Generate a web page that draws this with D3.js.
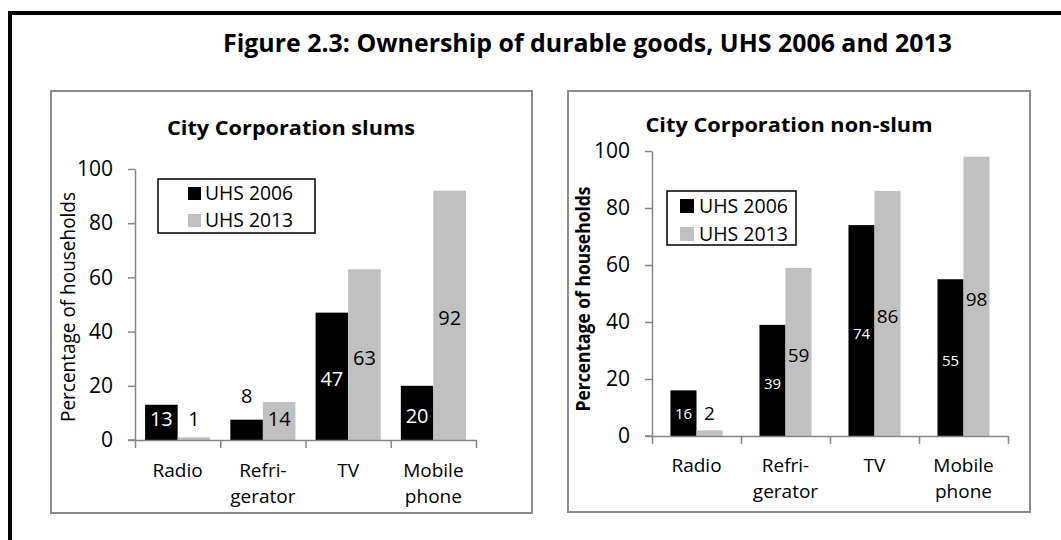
<!DOCTYPE html>
<html>
<head>
<meta charset="utf-8">
<script src="https://cdn.jsdelivr.net/npm/d3@7"></script>
<style>
  body { margin: 0; background: #fff; }
  svg { display: block; font-family: "Open Sans", "Noto Sans", sans-serif; }
</style>
</head>
<body>
<script>
// data
const categories = [["Radio"], ["Refri-", "gerator"], ["TV"], ["Mobile", "phone"]];
const seriesNames = ["UHS 2006", "UHS 2013"];
const slums2006 = [13, 7.5, 47, 20];
const slums2013 = [1, 14, 63, 92];
const nonSlum2006 = [16, 39, 74, 55];
const nonSlum2013 = [2, 59, 86, 98];
const yTicks = [0, 20, 40, 60, 80, 100];

const colors = ["#000000", "#c0c0c0"];
const axisGrey = "#868686";
const fmt = d3.format(".0f");

const svg = d3.select("body").append("svg")
    .attr("width", 1061)
    .attr("height", 540);

svg.append("rect").attr("width", 1061).attr("height", 540).attr("fill", "#fff");

// outer frame (cut off at the right and bottom)
svg.append("rect")
    .attr("x", 10).attr("y", 13)
    .attr("width", 1200).attr("height", 700)
    .attr("fill", "none")
    .attr("stroke", "#000")
    .attr("stroke-width", 4);

svg.append("text")
    .attr("x", 223).attr("y", 52)
    .attr("font-size", 25)
    .attr("font-weight", "bold")
    .attr("textLength", 729)
    .attr("lengthAdjust", "spacingAndGlyphs")
    .text("Figure 2.3: Ownership of durable goods, UHS 2006 and 2013");

function drawPanel(cfg) {
    const rows = categories.map((c, i) => ({ cat: i, values: [cfg.s0[i], cfg.s1[i]] }));

    // panel box
    svg.append("rect")
        .attr("x", cfg.box[0]).attr("y", cfg.box[1])
        .attr("width", cfg.box[2]).attr("height", cfg.box[3])
        .attr("fill", "#fff")
        .attr("stroke", "#8c8c8c")
        .attr("stroke-width", 2);

    // panel title
    svg.append("text")
        .attr("x", cfg.title.x).attr("y", cfg.title.y)
        .attr("text-anchor", "middle")
        .attr("font-size", 20)
        .attr("font-weight", "bold")
        .attr("textLength", cfg.title.len)
        .attr("lengthAdjust", "spacingAndGlyphs")
        .text(cfg.title.text);

    const y = d3.scaleLinear().domain([0, 100]).range(cfg.yRange);
    const x0 = d3.scaleBand().domain(d3.range(categories.length)).range(cfg.xRange);
    const x1 = d3.scaleBand().domain([0, 1]).range([0, x0.bandwidth()])
        .paddingInner(0).paddingOuter(cfg.pairPad);
    const xb = d3.scaleLinear().domain([0, categories.length]).range(cfg.xRange);

    const g = svg.append("g");

    // bars
    const groups = g.selectAll(".cat")
        .data(rows)
        .join("g")
        .attr("class", "cat")
        .attr("transform", d => `translate(${x0(d.cat)},0)`);

    groups.selectAll("rect")
        .data(d => d.values.map((v, s) => ({ v, s })))
        .join("rect")
        .attr("x", d => x1(d.s))
        .attr("y", d => y(d.v))
        .attr("width", x1.bandwidth())
        .attr("height", d => y(0) - y(d.v))
        .attr("fill", d => colors[d.s]);

    // value labels (short dark bars get their label above the bar)
    groups.selectAll("text")
        .data(d => d.values.map((v, s) => ({ v, s })))
        .join("text")
        .attr("x", d => x1(d.s) + x1.bandwidth() / 2)
        .attr("y", d => {
            if (d.s === 0 && d.v < 10) return y(d.v) - 24;
            return y(Math.max(d.v / 2, 9)) + 3;
        })
        .attr("dy", "0.35em")
        .attr("text-anchor", "middle")
        .attr("font-size", d => d.s === 0 ? cfg.darkLabelSize : cfg.lightLabelSize)
        .attr("fill", d => (d.s === 0 && d.v >= 10) ? "#fff" : "#000")
        .text(d => fmt(d.v));

    // y axis
    const yAxis = g.append("g")
        .attr("transform", `translate(${cfg.xRange[0]},0)`)
        .call(d3.axisLeft(y).tickValues(yTicks).tickSize(7).tickSizeOuter(0).tickPadding(15));
    yAxis.select(".domain").attr("stroke", axisGrey).attr("stroke-width", 1.5);
    yAxis.selectAll(".tick line").attr("stroke", axisGrey).attr("stroke-width", 1.5);
    yAxis.selectAll(".tick text")
        .attr("font-size", 21)
        .attr("font-family", "Open Sans, sans-serif")
        .attr("fill", "#000");

    // x axis with ticks on category boundaries
    const xAxis = g.append("g")
        .attr("transform", `translate(0,${y(0)})`)
        .call(d3.axisBottom(xb).tickValues(d3.range(categories.length + 1))
            .tickFormat("").tickSize(8).tickSizeOuter(0));
    xAxis.select(".domain").attr("stroke", axisGrey).attr("stroke-width", 1.5);
    xAxis.selectAll(".tick line").attr("stroke", axisGrey).attr("stroke-width", 1.5);
    xAxis.append("line")
        .attr("x1", cfg.xRange[0] - 7).attr("x2", cfg.xRange[0])
        .attr("stroke", axisGrey).attr("stroke-width", 1.5);

    // category labels, one text per line
    const catLines = categories.flatMap((lines, i) => lines.map((line, j) => ({ line, i, j })));
    g.selectAll(".catlabel")
        .data(catLines)
        .join("text")
        .attr("class", "catlabel")
        .attr("text-anchor", "middle")
        .attr("font-size", 19)
        .attr("x", d => x0(d.i) + x0.bandwidth() / 2)
        .attr("y", d => cfg.catY + d.j * 26)
        .text(d => d.line);

    // y axis title
    svg.append("text")
        .attr("transform", `translate(${cfg.yTitle.x},${cfg.yTitle.y}) rotate(-90)`)
        .attr("text-anchor", "middle")
        .attr("font-size", 20)
        .attr("font-weight", cfg.yTitle.weight)
        .attr("textLength", cfg.yTitle.len)
        .attr("lengthAdjust", "spacingAndGlyphs")
        .text("Percentage of households");

    // legend
    const L = cfg.legend;
    const lg = svg.append("g").attr("transform", `translate(${L.x},${L.y})`);
    lg.append("rect")
        .attr("width", L.w).attr("height", L.h)
        .attr("fill", "#fff")
        .attr("stroke", "#000")
        .attr("stroke-width", 1.5);
    const items = lg.selectAll(".item")
        .data(seriesNames)
        .join("g")
        .attr("class", "item")
        .attr("transform", (d, i) => `translate(${L.sx},${L.sy + i * L.step})`);
    items.append("rect")
        .attr("width", L.sw).attr("height", L.sw)
        .attr("fill", (d, i) => colors[i]);
    items.append("text")
        .attr("x", L.tx)
        .attr("y", L.sw)
        .attr("font-size", 20)
        .attr("textLength", L.tlen)
        .attr("lengthAdjust", "spacingAndGlyphs")
        .text(d => d);
}

drawPanel({
    s0: slums2006, s1: slums2013,
    box: [51, 91, 481, 422],
    title: { text: "City Corporation slums", x: 291, y: 135, len: 248 },
    yRange: [440, 169],
    xRange: [135, 476],
    pairPad: 0.31,
    darkLabelSize: 20, lightLabelSize: 20,
    catY: 477,
    yTitle: { x: 75, y: 307, len: 230, weight: "normal" },
    legend: { x: 158, y: 179, w: 157, h: 54, sx: 30, sy: 8, step: 27, sw: 13, tx: 17, tlen: 88 }
});

drawPanel({
    s0: nonSlum2006, s1: nonSlum2013,
    box: [568, 91, 462, 421],
    title: { text: "City Corporation non-slum", x: 789, y: 132, len: 287 },
    yRange: [436, 151],
    xRange: [652, 1008],
    pairPad: 0.71,
    darkLabelSize: 15, lightLabelSize: 19,
    catY: 472,
    yTitle: { x: 590, y: 299, len: 225, weight: "bold" },
    legend: { x: 667, y: 191, w: 129, h: 54, sx: 13, sy: 8, step: 28, sw: 14, tx: 19, tlen: 89 }
});
</script>
</body>
</html>
